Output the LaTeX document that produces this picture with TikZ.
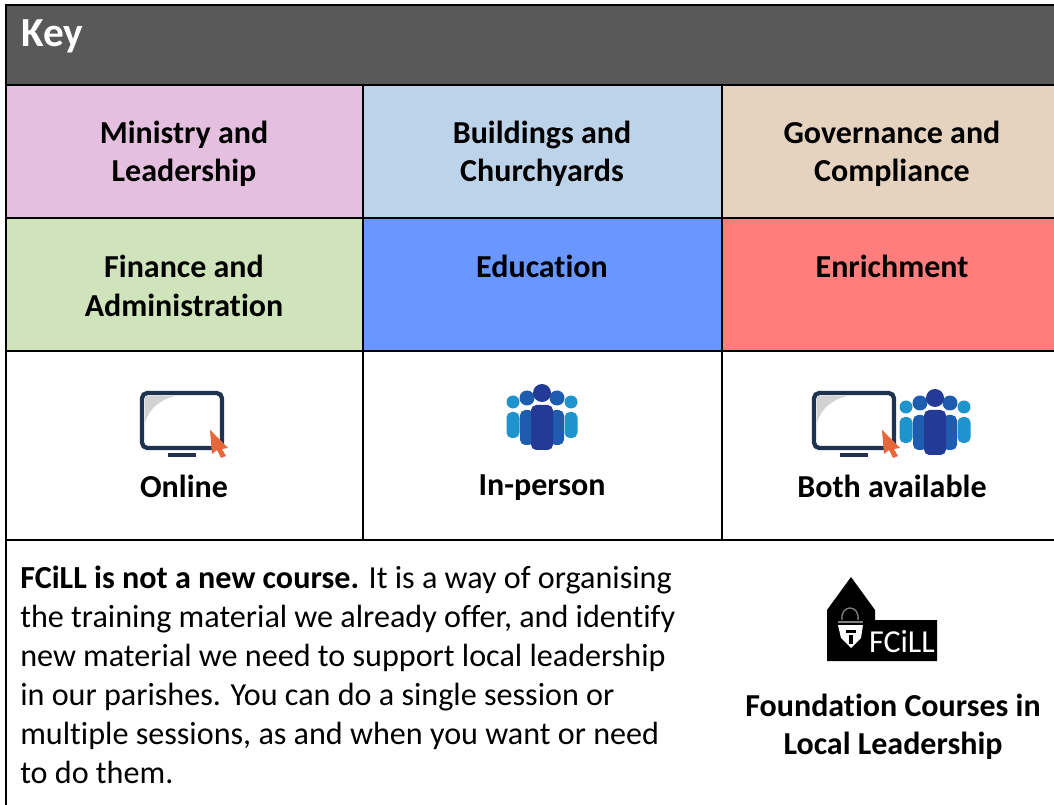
\documentclass[tikz,border=0pt]{standalone}
\usepackage{fontspec}
\setmainfont{Carlito}[Ligatures=NoCommon]
\definecolor{hdr}{HTML}{595959}
\definecolor{cmin}{HTML}{E5BFDF}
\definecolor{cbld}{HTML}{BDD3E9}
\definecolor{cgov}{HTML}{E5D3BF}
\definecolor{cfin}{HTML}{D0E4BC}
\definecolor{cedu}{HTML}{6A96FF}
\definecolor{cenr}{HTML}{FF7D7D}
\definecolor{navy}{HTML}{1F3350}
\definecolor{dblue}{HTML}{233A96}
\definecolor{mblue}{HTML}{1D5CAE}
\definecolor{lblue}{HTML}{1E93CC}
\definecolor{curs}{HTML}{E8673A}
\tikzset{
 x=0.75pt,y=-0.75pt,
 cell/.style={draw=black,line width=1.7pt},
 lab/.style={font=\fontsize{24pt}{28.9pt}\selectfont\bfseries,align=center,inner sep=0pt,text=black},
 body/.style={font=\fontsize{24.1pt}{29.2pt}\selectfont,align=left,inner sep=0pt,anchor=north west},
 pic1/.pic={
  \draw[navy,line width=3.2pt,rounded corners=4pt,fill=white] (-40,-30) rectangle (40,25);
  \fill[gray!35] (-37,-27) -- (-6,-27) .. controls (-22,-24) and (-33,-14) .. (-37,0) -- cycle;
  \fill[navy] (-14,30) rectangle (14,34);
  \fill[curs] (28,7) -- (46,25) -- (40,26) -- (44,33) -- (39,35) -- (35,27) -- (30,31) -- cycle;
 },
 pic2/.pic={
  \foreach \xx/\rr/\yy/\w/\t/\b/\cc in {-29/6.5/-22/6.5/-12/14/lblue,29/6.5/-22/6.5/-12/14/lblue,-15/7.5/-26/7/-14/21/mblue,15/7.5/-26/7/-14/21/mblue,0/9/-31/11/-19/26/dblue}{
   \fill[\cc] (\xx,\yy) circle (\rr);
   \fill[\cc,rounded corners=4pt] (\xx-\w,\t) rectangle (\xx+\w,\b);
  }
 },
}
\begin{document}
\begin{tikzpicture}
\useasboundingbox (0,0) rectangle (1054,805);
% fills
\fill[hdr] (6,5) rectangle (1054,85);
\fill[cmin] (6,85) rectangle (363,218);
\fill[cbld] (363,85) rectangle (722,218);
\fill[cgov] (722,85) rectangle (1054,218);
\fill[cfin] (6,218) rectangle (363,351);
\fill[cedu] (363,218) rectangle (722,351);
\fill[cenr] (722,218) rectangle (1054,351);
% grid
\coordinate (tl) at (6,5); \coordinate (tr) at (1054,5);
\coordinate (bl) at (6,805);
\draw[cell] (tr) -- (tl) -- (bl);
\foreach \yy in {85,218,351,540}{\draw[cell] (6,\yy) -- (1054,\yy);}
\foreach \xx in {363,722}{\draw[cell] (\xx,85) -- (\xx,540);}
% text
\node[anchor=base west,inner sep=0pt,text=white,font=\fontsize{31pt}{34pt}\selectfont\bfseries] (key) at (21,47) {Key};
\node[lab] (n1) at (184,154) {Ministry and\\Leadership};
\node[lab] (n2) at (542,154) {Buildings and\\Churchyards};
\node[lab] (n3) at (892,154) {Governance and\\Compliance};
\node[lab] (n4) at (184,286) {Finance and\\Administration};
\node[lab] (n5) at (542,266) {Education};
\node[lab] (n6) at (892,266) {Enrichment};
\node[lab] (n7) at (184,486) {Online};
\node[lab] (n8) at (542,488) {In-person};
\node[lab] (n9) at (892,486) {Both available};
\node[body] (b1) at (20,566) {\textbf{FCiLL is not a new course.} It is a way of organising\\the training material we already offer, and identify\\new material we need to support local leadership\\in our parishes. You can do a single session or\\multiple sessions, as and when you want or need\\to do them.};
\node[lab] (n10) at (893,727) {Foundation Courses in\\Local Leadership};
% icons
\pic at (182,423) {pic1};
\pic at (542,424) {pic2};
\pic at (854,423) {pic1};
\pic at (935,429) {pic2};
% logo
\fill[black] (827,661) -- (827,610) -- (851,577) -- (875,610) -- (875,620) -- (937,620) -- (937,661) -- cycle;
\node[inner sep=0pt,text=white,font=\fontsize{24pt}{24pt}\selectfont] (lg) at (902,642) {FCiLL};
\fill[white] (838,625) -- (863,625) -- (861,638) -- (851,648) -- (841,638) -- cycle;
\draw[gray,line width=1pt] (842,620) .. controls (840,604) and (860,604) .. (858,620);
\draw[gray,line width=1pt] (838,622) -- (863,622);
\fill[black] (846,630) rectangle (856,633);
\fill[black] (849,635) rectangle (853,644);
\end{tikzpicture}
\end{document}
